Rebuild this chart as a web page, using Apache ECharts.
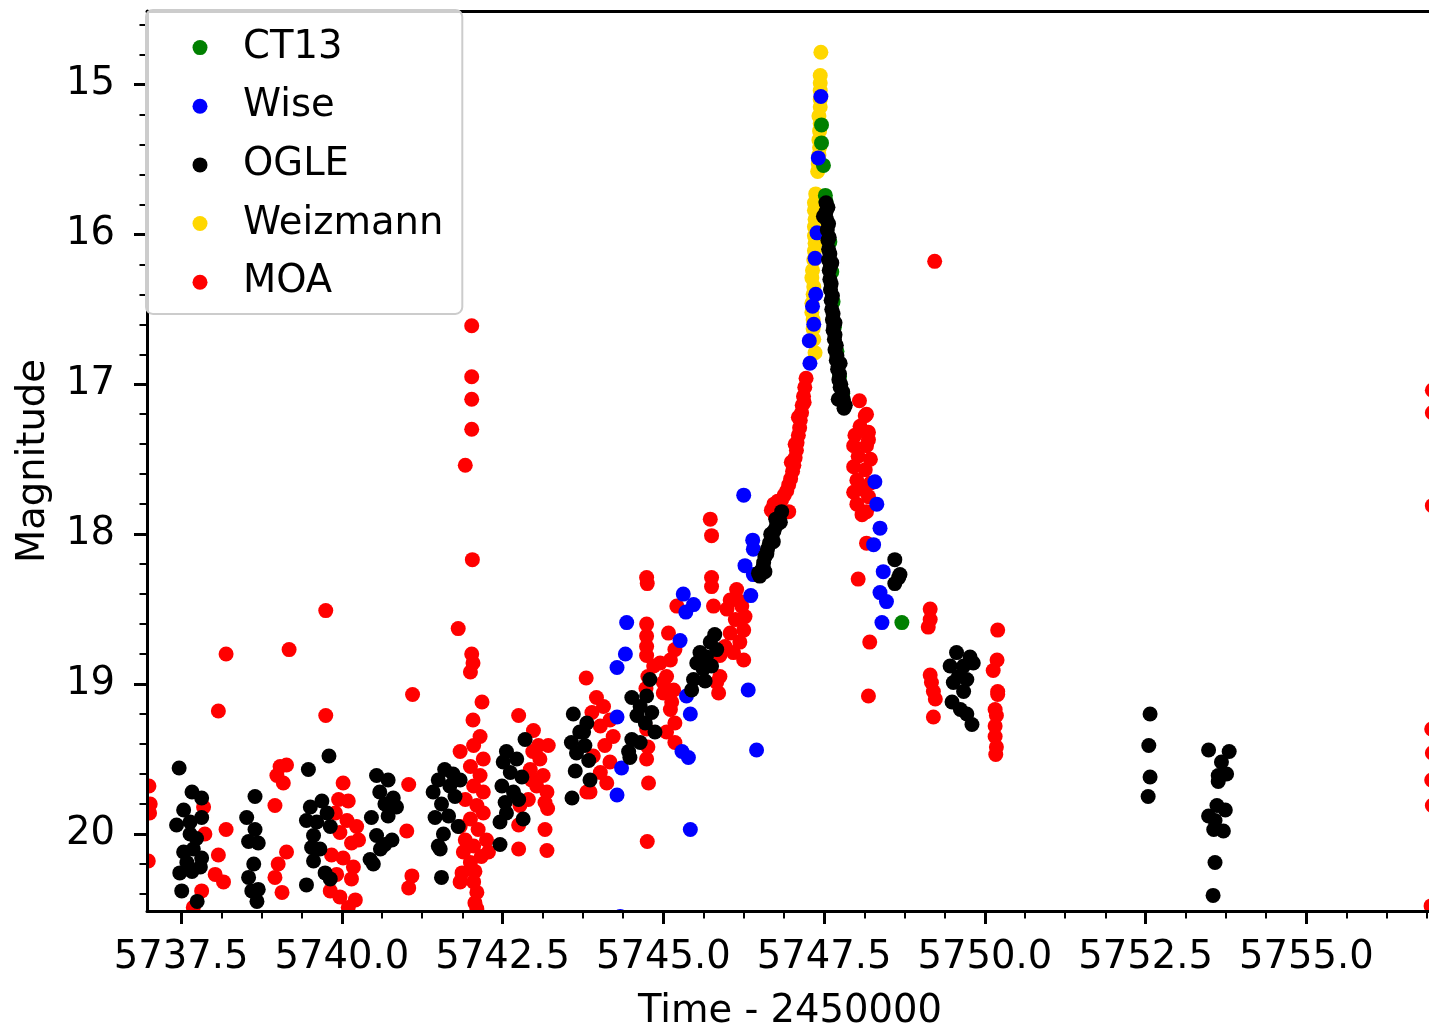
<!DOCTYPE html>
<html>
<head>
<meta charset="utf-8">
<script src="https://cdn.jsdelivr.net/npm/echarts@6.0.0/dist/echarts.min.js"></script>
<style>
html,body{margin:0;padding:0;background:#ffffff;}
#chart{width:1429px;height:1026px;}
</style>
</head>
<body>
<div id="chart"></div>
<script>
// ---------- axis ticks ----------
const xTicks = [5737.5, 5740.0, 5742.5, 5745.0, 5747.5, 5750.0, 5752.5, 5755.0];
const xMinorTicks = [5738.125, 5738.75, 5739.375, 5740.625, 5741.25, 5741.875, 5743.125, 5743.75, 5744.375,
  5745.625, 5746.25, 5746.875, 5748.125, 5748.75, 5749.375, 5750.625, 5751.25, 5751.875, 5753.125, 5753.75,
  5754.375, 5755.625, 5756.25, 5756.875];
const yTicks = [15, 16, 17, 18, 19, 20];
const yMinorTicks = [14.6, 14.8, 15.2, 15.4, 15.6, 15.8, 16.2, 16.4, 16.6, 16.8, 17.2, 17.4, 17.6, 17.8,
  18.2, 18.4, 18.6, 18.8, 19.2, 19.4, 19.6, 19.8, 20.2, 20.4];
const xRange = [5736.97, 5756.97];
const yRange = [14.51, 20.514];

// ---------- data: [time - 2450000, magnitude] ----------
const ct13Data = [
  [5747.46,15.27],[5747.46,15.39],[5747.49,15.54],[5747.52,15.74],[5747.53,15.78],
  [5747.59,16.05],[5747.62,16.25],[5747.64,16.45],[5747.66,16.62],[5747.70,16.78],[5747.74,16.95],[5747.79,17.06],
  [5748.71,18.59]
];

const wiseData = [
  [5746.25,17.74],[5746.39,18.04],[5746.40,18.10],[5746.27,18.21],[5746.40,18.27],[5746.36,18.41],
  [5745.31,18.40],[5745.47,18.47],[5745.35,18.52],[5744.43,18.59],[5745.26,18.71],[5744.41,18.80],
  [5744.28,18.89],[5745.36,19.08],[5746.32,19.04],[5745.42,19.20],[5744.28,19.22],[5745.29,19.45],
  [5745.39,19.49],[5746.45,19.44],[5744.35,19.56],[5744.28,19.74],[5745.42,19.97],[5744.33,20.55],
  [5748.29,17.65],[5748.32,17.80],[5748.37,17.96],[5748.27,18.07],[5748.42,18.25],[5748.37,18.39],
  [5748.47,18.45],[5748.40,18.59],
  [5747.45,15.08],[5747.41,15.49],[5747.39,15.99],[5747.36,16.16],[5747.37,16.40],[5747.32,16.48],
  [5747.34,16.60],[5747.27,16.71],[5747.28,16.86]
];

const ogleData = [
  [5737.47,19.56],[5737.67,19.72],[5737.82,19.76],[5737.54,19.84],[5737.43,19.94],[5737.64,20.00],
  [5737.74,20.03],[5737.54,20.12],[5737.69,20.10],[5737.82,20.16],[5737.48,20.26],[5737.67,20.25],
  [5737.80,20.22],[5737.51,20.38],[5737.75,20.45],[5737.82,19.89],[5737.64,19.92],[5737.59,20.19],
  [5738.65,19.75],[5738.52,19.89],[5738.65,19.97],[5738.55,20.05],[5738.70,20.06],[5738.63,20.20],
  [5738.55,20.29],[5738.70,20.37],[5738.60,20.38],[5738.68,20.45],
  [5739.48,19.57],[5739.80,19.48],[5739.69,19.78],[5739.51,19.82],[5739.45,19.91],[5739.61,19.92],
  [5739.77,19.86],[5739.82,19.95],[5739.56,20.01],[5739.53,20.09],[5739.66,20.10],[5739.56,20.18],
  [5739.74,20.26],[5739.82,20.30],[5739.45,20.34],
  [5740.54,19.61],[5740.72,19.64],[5740.59,19.72],[5740.80,19.76],[5740.67,19.80],[5740.85,19.82],
  [5740.46,19.89],[5740.72,19.88],[5740.54,20.01],[5740.78,20.04],[5740.67,20.07],[5740.60,20.10],
  [5740.44,20.17],[5740.49,20.20],
  [5741.60,19.57],[5741.73,19.60],[5741.50,19.64],[5741.84,19.64],[5741.68,19.68],[5741.42,19.72],
  [5741.76,19.75],[5741.55,19.80],[5741.66,19.88],[5741.81,19.95],[5741.45,19.89],[5741.58,20.00],
  [5741.50,20.08],[5741.53,20.10],[5741.55,20.29],
  [5742.56,19.45],[5742.85,19.37],[5742.51,19.52],[5742.72,19.50],[5742.62,19.59],[5742.80,19.62],
  [5742.49,19.68],[5742.67,19.72],[5742.54,19.79],[5742.75,19.77],[5742.46,19.92],[5742.82,19.90],
  [5742.46,20.07],[5742.56,19.86],
  [5743.60,19.20],[5743.81,19.26],[5743.70,19.32],[5743.57,19.39],[5743.78,19.41],[5743.65,19.46],
  [5743.84,19.51],[5743.63,19.58],[5743.86,19.64],[5743.58,19.76],[5743.76,19.32],
  [5744.79,18.97],[5744.51,19.09],[5744.74,19.08],[5744.64,19.15],[5744.82,19.19],[5744.59,19.21],
  [5744.72,19.26],[5744.87,19.32],[5744.51,19.37],[5744.64,19.39],[5744.46,19.45],[5744.48,19.49],
  [5745.80,18.67],[5745.73,18.72],[5745.57,18.79],[5745.67,18.82],[5745.52,18.86],[5745.83,18.77],
  [5745.62,18.90],[5745.47,18.97],[5745.44,19.04],[5745.65,18.98],[5745.75,18.88],
  [5746.50,18.28],[5746.53,18.24],[5746.56,18.19],[5746.58,18.15],[5746.62,18.10],[5746.65,18.06],
  [5746.69,18.02],[5746.72,17.98],[5746.76,17.94],[5746.80,17.89],[5746.84,17.85],[5746.58,18.25],
  [5746.48,18.26],[5746.71,18.05],[5746.82,17.92],[5746.55,18.22],[5746.61,18.13],[5746.67,18.00],
  [5746.75,17.90],
  [5747.53,15.79],[5747.53,15.85],[5747.54,15.90],[5747.55,15.97],[5747.56,16.04],[5747.57,16.10],
  [5747.57,16.17],[5747.58,16.24],[5747.59,16.30],[5747.60,16.37],[5747.61,16.44],[5747.62,16.50],
  [5747.63,16.57],[5747.64,16.64],[5747.66,16.70],[5747.67,16.77],[5747.69,16.84],[5747.71,16.90],
  [5747.73,16.97],[5747.75,17.02],[5747.77,17.08],[5747.79,17.12],[5747.81,17.16],
  [5747.49,15.88],[5747.62,16.19],[5747.67,16.59],[5747.75,16.86],[5747.72,17.10],
  [5747.56,15.82],[5747.57,15.93],[5747.58,16.02],[5747.59,16.13],[5747.60,16.21],[5747.61,16.33],
  [5747.63,16.41],[5747.64,16.53],[5747.65,16.61],[5747.67,16.67],[5747.69,16.74],[5747.70,16.81],
  [5747.72,16.88],[5747.74,16.93],[5747.76,17.00],[5747.79,17.05],[5747.80,17.10],[5747.83,17.14],
  [5748.60,18.17],[5748.68,18.27],[5748.60,18.33],[5748.66,18.29],
  [5749.56,18.79],[5749.77,18.82],[5749.46,18.88],[5749.67,18.88],[5749.59,18.95],[5749.72,18.97],
  [5749.51,18.99],[5749.67,19.05],[5749.82,18.86],[5749.49,19.12],[5749.62,19.17],[5749.72,19.20],
  [5749.80,19.27],
  [5752.57,19.20],[5752.55,19.41],[5752.57,19.62],[5752.54,19.75],
  [5753.48,19.44],[5753.80,19.45],[5753.68,19.52],[5753.76,19.60],[5753.63,19.61],[5753.63,19.65],
  [5753.61,19.81],[5753.74,19.84],[5753.48,19.88],[5753.58,19.91],[5753.56,19.97],[5753.71,19.98],
  [5753.58,20.19],[5753.55,20.41]
];

const weizmannData = [
  [5747.45,14.785],[5747.44,14.94],[5747.44,14.99],[5747.44,15.04],[5747.44,15.10],[5747.44,15.15],
  [5747.42,15.21],[5747.44,15.26],[5747.43,15.31],[5747.42,15.37],[5747.43,15.42],[5747.42,15.47],
  [5747.41,15.53],[5747.40,15.58],[5747.37,15.73],[5747.35,15.79],[5747.35,15.84],[5747.36,15.90],
  [5747.35,15.95],[5747.35,16.01],[5747.36,16.06],[5747.35,16.11],[5747.34,16.17],[5747.32,16.24],
  [5747.31,16.29],[5747.34,16.35],[5747.33,16.40],[5747.31,16.46],[5747.31,16.52],[5747.33,16.57],
  [5747.33,16.63],[5747.34,16.70],[5747.36,16.79]
];

const moaData = [
  [5737.00,19.68],[5737.02,19.80],[5737.01,19.86],[5736.99,20.18],
  [5738.08,19.18],[5738.20,18.80],[5738.20,19.97],[5737.85,19.82],[5737.87,20.00],[5738.08,20.14],
  [5738.03,20.27],[5738.16,20.32],[5737.82,20.38],[5737.69,20.49],
  [5739.18,18.77],[5739.75,18.51],[5739.75,19.21],[5739.04,19.55],[5739.14,19.54],[5738.99,19.61],
  [5739.09,19.66],[5738.96,19.81],[5739.14,20.12],[5739.01,20.20],[5738.96,20.29],[5739.07,20.39],
  [5740.02,19.66],[5739.95,19.77],[5740.10,19.78],[5739.90,19.86],[5740.08,19.91],[5740.23,19.95],
  [5739.97,19.99],[5740.15,20.06],[5739.84,20.14],[5740.02,20.16],[5740.18,20.22],[5739.92,20.27],
  [5740.15,20.30],[5739.82,20.38],[5739.97,20.42],[5740.21,20.44],[5740.10,20.49],[5740.26,20.04],
  [5741.04,19.67],[5741.10,19.07],[5741.01,19.98],[5741.09,20.28],[5741.04,20.36],
  [5741.81,18.63],[5742.02,18.80],[5742.04,18.86],[5742.00,18.92],[5742.03,18.17],[5742.18,19.12],
  [5742.04,19.24],[5742.15,19.35],[5741.84,19.45],[5742.05,19.41],[5742.20,19.50],[5742.00,19.55],
  [5742.15,19.61],[5742.05,19.68],[5742.20,19.72],[5741.92,19.77],[5742.10,19.81],[5742.20,19.86],
  [5742.00,19.90],[5741.84,19.95],[5742.12,19.97],[5741.92,20.04],[5742.25,20.04],[5742.05,20.08],
  [5741.89,20.12],[5742.17,20.15],[5742.28,20.12],[5742.00,20.19],[5741.87,20.26],[5742.07,20.25],
  [5741.84,20.32],[5742.05,20.32],[5742.10,20.39],[5742.07,20.46],[5742.10,20.50],
  [5742.02,16.61],[5742.02,16.95],[5742.02,17.10],[5742.02,17.30],[5741.92,17.54],
  [5742.75,19.21],[5742.98,19.31],[5743.21,19.41],[5743.08,19.50],[5742.93,19.57],[5743.13,19.61],
  [5743.03,19.68],[5743.19,19.72],[5742.90,19.77],[5743.16,19.79],[5742.77,19.81],[5742.75,19.94],
  [5743.16,19.97],[5742.75,20.10],[5743.19,20.11],[5742.95,19.64],[5743.06,19.41],[5743.20,19.83],
  [5742.97,19.45],
  [5743.80,18.96],[5743.81,19.72],
  [5743.96,19.09],[5744.07,19.15],[5743.89,19.19],[5744.17,19.24],[5744.02,19.28],[5744.22,19.35],
  [5744.09,19.41],[5743.91,19.48],[5744.17,19.52],[5744.02,19.59],[5744.12,19.66],[5743.86,19.72],
  [5744.74,18.29],[5744.75,18.33],[5744.74,18.60],[5744.74,18.68],[5744.74,18.75],[5744.74,18.81],
  [5744.85,18.88],[5744.95,18.86],[5745.05,18.95],[5745.16,19.04],[5745.00,19.06],[5745.11,19.17],
  [5745.18,19.26],[5745.05,19.32],[5745.18,19.39],[5745.08,18.66],[5745.18,18.77],[5745.11,18.84],
  [5745.21,18.48],[5745.00,18.99],[5745.13,19.12],[5744.76,18.95],[5744.73,19.03],[5744.74,19.30],
  [5744.76,19.42],[5744.74,19.50],[5744.77,19.66],[5744.75,20.05],
  [5745.73,17.90],[5745.75,18.01],[5745.75,18.29],[5745.75,18.35],[5745.78,18.48],[5745.83,18.99],
  [5745.86,19.06],[5745.88,18.95],
  [5746.14,18.37],[5746.04,18.44],[5746.22,18.48],[5745.99,18.50],[5746.12,18.57],[5746.25,18.64],
  [5746.04,18.66],[5746.19,18.72],[5745.96,18.75],[5746.09,18.79],[5746.25,18.84],[5745.88,18.81],
  [5746.19,18.45],[5746.27,18.55],
  [5747.22,16.96],[5747.20,17.02],[5747.18,17.08],[5747.16,17.14],[5747.15,17.19],[5747.13,17.24],
  [5747.12,17.29],[5747.10,17.34],[5747.08,17.39],[5747.07,17.44],[5747.05,17.49],[5747.03,17.54],
  [5747.01,17.58],[5746.98,17.63],[5746.95,17.67],[5746.92,17.71],[5746.88,17.74],[5746.84,17.77],
  [5746.78,17.78],[5746.72,17.80],[5746.68,17.84],[5746.74,17.88],[5746.95,17.85],[5747.10,17.22],
  [5747.19,17.12],[5747.05,17.40],[5746.99,17.52],
  [5748.05,17.11],[5748.16,17.20],[5748.06,17.28],[5747.98,17.34],[5748.19,17.32],[5747.96,17.41],
  [5748.16,17.41],[5748.03,17.48],[5748.22,17.50],[5747.96,17.55],[5748.14,17.57],[5748.01,17.64],
  [5748.22,17.66],[5748.09,17.70],[5747.96,17.72],[5748.19,17.75],[5748.01,17.80],[5748.16,17.85],
  [5748.09,17.87],[5748.16,18.06],[5748.03,18.30],[5748.21,18.72],[5748.19,19.08],[5748.14,17.21],
  [5748.19,17.37],
  [5749.15,18.50],[5749.15,18.57],[5749.12,18.62],[5749.15,18.94],[5749.17,18.99],[5749.20,19.05],
  [5749.23,19.10],[5749.20,19.22],
  [5749.22,16.18],
  [5750.20,18.64],[5750.19,18.84],[5750.13,18.91],[5750.20,19.05],[5750.20,19.07],[5750.16,19.17],
  [5750.18,19.21],[5750.16,19.28],[5750.16,19.35],[5750.18,19.42],[5750.17,19.47],
  [5756.96,17.04],[5756.96,17.19],[5756.96,17.81],[5756.95,19.30],[5756.96,19.46],[5756.95,19.64],
  [5756.96,19.81],[5756.94,20.48]
];

const seriesNames = ['CT13', 'Wise', 'OGLE', 'Weizmann', 'MOA'];
const seriesColors = {CT13: '#008000', Wise: '#0000ff', OGLE: '#000000', Weizmann: '#ffd700', MOA: '#ff0000'};
const seriesData = {CT13: ct13Data, Wise: wiseData, OGLE: ogleData, Weizmann: weizmannData, MOA: moaData};
// drawing order (bottom to top)
const drawOrder = ['MOA', 'Weizmann', 'CT13', 'Wise', 'OGLE'];

const FONT = 'DejaVu Sans';
const FS = 38.5;

const chart = echarts.init(document.getElementById('chart'), null, {renderer: 'canvas'});

const gridLeft = 147, gridTop = 11, gridW = 1286, gridH = 900;

const option = {
  animation: false,
  backgroundColor: '#ffffff',
  grid: {left: gridLeft, top: gridTop, width: gridW, height: gridH, containLabel: false, outerBoundsMode: 'none'},
  legend: {
    data: seriesNames,
    orient: 'vertical',
    left: 146, top: 10,
    padding: [18.1, 19, 12.2, 46.5],
    itemGap: 19.65,
    itemWidth: 76, itemHeight: 15,
    icon: 'circle',
    selectedMode: false,
    backgroundColor: 'rgba(255,255,255,0.8)',
    borderColor: '#cccccc', borderWidth: 2, borderRadius: 7,
    textStyle: {fontFamily: FONT, fontSize: FS, lineHeight: 37, color: '#000'},
    z: 10
  },
  graphic: [
    {type: 'rect', z: 3, silent: true, shape: {x: 0, y: 0, width: gridLeft, height: 1026}, style: {fill: '#ffffff'}},
    {type: 'rect', z: 3, silent: true, shape: {x: 0, y: gridTop + gridH, width: 1429, height: 1026 - gridTop - gridH}, style: {fill: '#ffffff'}},
    {type: 'rect', z: 3, silent: true, shape: {x: 0, y: 0, width: 1429, height: gridTop}, style: {fill: '#ffffff'}}
  ],
  xAxis: [
    {
      type: 'value', position: 'bottom', min: xRange[0], max: xRange[1], z: 5,
      axisLine: {show: true, onZero: false, lineStyle: {color: '#000', width: 3}},
      axisTick: {show: true, inside: false, length: 13, lineStyle: {color: '#000', width: 3}, customValues: xTicks},
      axisLabel: {show: true, customValues: xTicks, formatter: v => Number(v).toFixed(1), margin: 27,
        fontFamily: FONT, fontSize: FS, color: '#000'},
      splitLine: {show: false},
      name: 'Time - 2450000', nameLocation: 'middle', nameGap: 81,
      nameTextStyle: {fontFamily: FONT, fontSize: FS, color: '#000'}
    },
    {
      type: 'value', position: 'bottom', min: xRange[0], max: xRange[1], z: 5,
      axisLine: {show: false, onZero: false},
      axisTick: {show: true, inside: false, length: 7.5, lineStyle: {color: '#000', width: 2}, customValues: xMinorTicks},
      axisLabel: {show: false},
      splitLine: {show: false}
    },
    {
      type: 'value', position: 'top', min: xRange[0], max: xRange[1], z: 5,
      axisLine: {show: true, onZero: false, lineStyle: {color: '#000', width: 3}},
      axisTick: {show: false}, axisLabel: {show: false}, splitLine: {show: false}
    }
  ],
  yAxis: [
    {
      type: 'value', position: 'left', inverse: true, min: yRange[0], max: yRange[1], z: 5,
      axisLine: {show: true, onZero: false, lineStyle: {color: '#000', width: 3}},
      axisTick: {show: true, inside: false, length: 13, lineStyle: {color: '#000', width: 3}, customValues: yTicks},
      axisLabel: {show: true, customValues: yTicks, formatter: v => String(Math.round(v)), margin: 32,
        fontFamily: FONT, fontSize: FS, color: '#000'},
      splitLine: {show: false},
      name: 'Magnitude', nameLocation: 'middle', nameGap: 94,
      nameTextStyle: {fontFamily: FONT, fontSize: FS, color: '#000'}
    },
    {
      type: 'value', position: 'left', inverse: true, min: yRange[0], max: yRange[1], z: 5,
      axisLine: {show: false, onZero: false},
      axisTick: {show: true, inside: false, length: 7.5, lineStyle: {color: '#000', width: 2}, customValues: yMinorTicks},
      axisLabel: {show: false},
      splitLine: {show: false}
    }
  ],
  series: drawOrder.map(name => ({
    name: name,
    type: 'scatter',
    xAxisIndex: 0, yAxisIndex: 0,
    data: seriesData[name],
    symbol: 'circle',
    symbolSize: 15,
    clip: false,
    itemStyle: {color: seriesColors[name], opacity: 1},
    emphasis: {disabled: true},
    z: 2
  }))
};

chart.setOption(option);
</script>
</body>
</html>
